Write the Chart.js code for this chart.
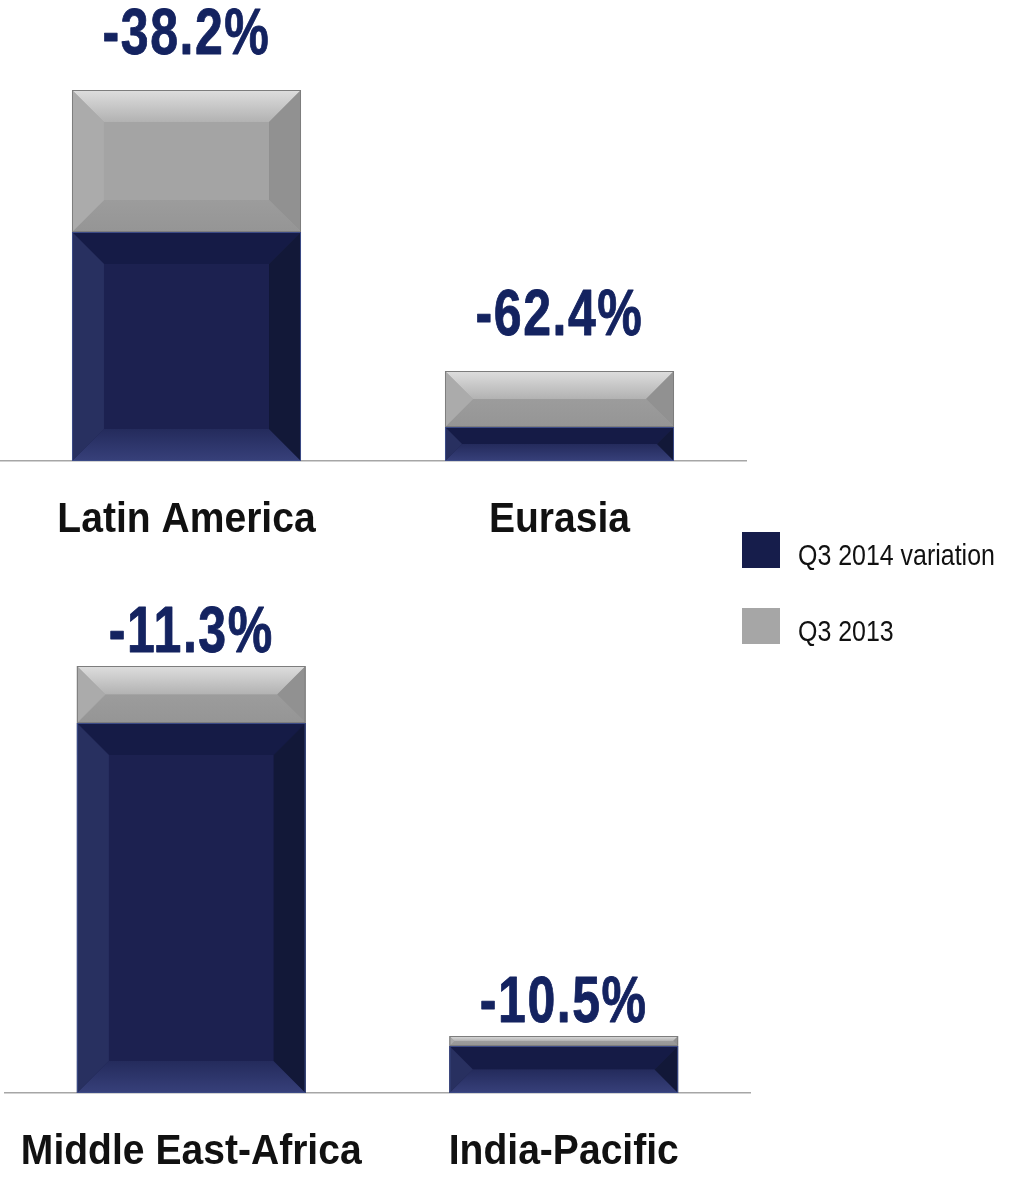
<!DOCTYPE html>
<html lang="en">
<head>
<meta charset="UTF-8">
<title>Regional variation</title>
<style>
  html, body { margin: 0; padding: 0; background: #fff; overflow: hidden; }
  .panel { position: absolute; left: 0; width: 1011px; }
  #top { top: 0; height: 660px; }
  #bottom { top: 547px; height: 632px; }
</style>
</head>
<body>
<div class="panel" id="top"><canvas id="chartTop"></canvas></div>
<div class="panel" id="bottom"><canvas id="chartBottom"></canvas></div>

<script src="https://cdn.jsdelivr.net/npm/chart.js"></script>
<script>
const seriesNames = ['Q3 2014 variation', 'Q3 2013']

const topRegions = ['Latin America', 'Eurasia']
const topQ3_2014 = [229, 34]
const topQ3_2013 = [371, 90]
const topChange = ['-38.2%', '-62.4%']

const bottomRegions = ['Middle East-Africa', 'India-Pacific']
const bottomQ3_2014 = [370, 47]
const bottomQ3_2013 = [427, 57]
const bottomChange = ['-11.3%', '-10.5%']

// no Arial Narrow here, so Liberation Sans squeezed sideways
const FONT = "'Liberation Sans', Arial, sans-serif"

function narrowText(ctx, text, x, y, font, color, align, squeeze, heavy) {
  ctx.save()
  ctx.translate(x, y)
  ctx.scale(squeeze, 1)
  ctx.font = font
  ctx.fillStyle = color
  ctx.textAlign = align
  ctx.textBaseline = 'alphabetic'
  if (heavy) ctx.letterSpacing = '2px'
  ctx.fillText(text, 0, 0)
  if (heavy) {
    // narrow bold is heavier than a squeezed regular bold
    ctx.strokeStyle = color
    ctx.lineWidth = heavy
    ctx.lineJoin = 'round'
    ctx.strokeText(text, 0, 0)
  }
  ctx.restore()
}

// bevel look of the powerpoint bars
const navyBevel = { base: '#1c2150', top: ['#151b46', '#151b46'], left: '#283060', right: '#121838', bottom: ['#242b5c', '#37407a'], edge: '#3b4a86' }
const grayBevel = { base: '#a4a4a4', top: ['#dedede', '#b2b2b2'], left: '#ababab', right: '#919191', bottom: ['#9c9c9c', '#959595'], edge: '#7d7d7d' }

function quad(ctx, pts, fill) {
  ctx.beginPath()
  ctx.moveTo(pts[0][0], pts[0][1])
  for (let i = 1; i < pts.length; i++) ctx.lineTo(pts[i][0], pts[i][1])
  ctx.closePath()
  ctx.fillStyle = fill
  ctx.fill()
}

const bevel = {
  id: 'bevel',
  afterDatasetDraw(chart, args) {
    const c = chart.data.datasets[args.index].bevel
    if (!c) return
    const ctx = chart.ctx
    ctx.save()
    args.meta.data.forEach(bar => {
      const p = bar.getProps(['x', 'y', 'base', 'width'], true)
      const l = p.x - p.width / 2, r = p.x + p.width / 2
      const t = Math.min(p.y, p.base), b = Math.max(p.y, p.base)
      if (b - t < 1) return
      const s = Math.min(32, (b - t) / 2, (r - l) / 2)
      let g = ctx.createLinearGradient(0, t, 0, t + s)
      g.addColorStop(0, c.top[0]); g.addColorStop(1, c.top[1])
      quad(ctx, [[l, t], [r, t], [r - s, t + s], [l + s, t + s]], g)
      g = ctx.createLinearGradient(0, b - s, 0, b)
      g.addColorStop(0, c.bottom[0]); g.addColorStop(1, c.bottom[1])
      quad(ctx, [[l, b], [r, b], [r - s, b - s], [l + s, b - s]], g)
      quad(ctx, [[l, t], [l + s, t + s], [l + s, b - s], [l, b]], c.left)
      quad(ctx, [[r, t], [r - s, t + s], [r - s, b - s], [r, b]], c.right)
      ctx.strokeStyle = c.edge
      ctx.lineWidth = 1
      ctx.strokeRect(l + 0.5, t + 0.5, r - l - 1, b - t - 1)
    })
    ctx.restore()
  }
}

// percentage above each stack + region names under the axis
const barText = {
  id: 'barText',
  afterDatasetsDraw(chart, args, opts) {
    const ctx = chart.ctx
    const meta = chart.getDatasetMeta(chart.data.datasets.length - 1)
    meta.data.forEach((bar, i) => {
      narrowText(ctx, opts.labels[i], bar.x, bar.y - opts.gap, 'bold 65px ' + FONT, '#142360', 'center', 0.77, 0.9)
    })
    const x = chart.scales.x
    chart.data.labels.forEach((name, i) => {
      narrowText(ctx, name, x.getPixelForTick(i), chart.chartArea.bottom + 71, 'bold 42px ' + FONT, '#111', 'center', 0.93, 0)
    })
  }
}

const sideLegend = {
  id: 'sideLegend',
  afterDraw(chart, args, opts) {
    if (!opts.show) return
    const ctx = chart.ctx
    chart.data.datasets.forEach((ds, i) => {
      const y = 532 + i * 76
      ctx.fillStyle = ds.legendColor
      ctx.fillRect(742, y, 38, 36)
      narrowText(ctx, ds.label, 798, y + 33, '29px ' + FONT, '#111', 'left', 0.86, 0)
    })
  }
}

function makeChart(id, regions, q14, q13, change, yMax, padding, gap, legend) {
  return new Chart(document.getElementById(id), {
    type: 'bar',
    data: {
      labels: regions,
      datasets: [
        {
          label: seriesNames[0],
          data: q14,
          backgroundColor: navyBevel.base,
          legendColor: '#161d4b',
          bevel: navyBevel,
          borderWidth: 0,
          barPercentage: 0.614,
          categoryPercentage: 1
        },
        {
          label: seriesNames[1],
          data: q13.map((v, i) => v - q14[i]),
          backgroundColor: grayBevel.base,
          legendColor: '#a6a6a6',
          bevel: grayBevel,
          borderWidth: 0,
          barPercentage: 0.614,
          categoryPercentage: 1
        }
      ]
    },
    options: {
      responsive: true,
      maintainAspectRatio: false,
      animation: false,
      layout: { padding },
      plugins: {
        legend: { display: false },
        tooltip: { enabled: false },
        barText: { labels: change, gap },
        sideLegend: { show: legend }
      },
      scales: {
        x: {
          stacked: true,
          grid: { display: false, drawTicks: false },
          border: { display: true, color: '#a6a6a6', width: 1.5 },
          ticks: { display: false },
          afterFit: scale => { scale.height = 86 }
        },
        y: { stacked: true, display: false, min: 0, max: yMax }
      }
    },
    plugins: [bevel, barText, sideLegend]
  })
}

makeChart('chartTop', topRegions, topQ3_2014, topQ3_2013, topChange, 461,
  { left: 0, right: 265, top: 0, bottom: 113 }, 36, true)
makeChart('chartBottom', bottomRegions, bottomQ3_2014, bottomQ3_2013, bottomChange, 546,
  { left: 5, right: 261, top: 0, bottom: 0 }, 14, false)
</script>
</body>
</html>
